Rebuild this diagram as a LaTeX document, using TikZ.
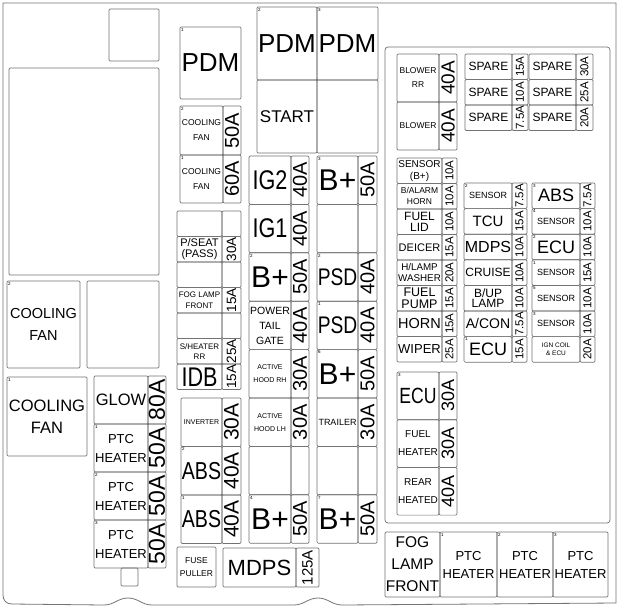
\documentclass[tikz,border=0pt]{standalone}
\usepackage{fontspec}
\setmainfont{Liberation Sans}
\newfontfamily\narrowfont{Liberation Sans}[FakeStretch=0.8]
\usepackage{graphicx}
\usetikzlibrary{positioning}
\definecolor{boxgray}{gray}{0.45}
\newcommand\fs[1]{\fontsize{#1}{#1}\selectfont}
\newcommand\fsb[2]{\fontsize{#1}{#2}\selectfont}
\newcommand\amp[2]{\rotatebox{90}{\fs{#1}#2}}
\tikzset{
    box/.style={draw=boxgray,line width=0.7pt,rounded corners=1.2pt,inner sep=0pt,outer sep=0pt,anchor=north west,align=center},
    idx/.style={font=\fs{4.5},anchor=north west,inner sep=1pt},
    case/.style={draw=boxgray,line width=0.8pt}
}
\newcommand\fuse[9][]{%
    \node[box,minimum width=#4,minimum height=#6,font=#7] (#2) at (#3) {#8};
    \node[box,minimum width=#5,minimum height=#6,right=0pt of #2.north east,anchor=north west] (#2-a) {#9};
    \node[idx] (#2-n) at (#2.north west) {#1};
}
\begin{document}
\begin{tikzpicture}[x=1pt,y=-1pt]
    \useasboundingbox[fill=white] (0,0) rectangle (620,610);
    % case outline
    \draw[case] (3,3) -- (616,3) -- (616,603) -- (342,605) .. controls (332,605) and (328,598) .. (318,598)
        .. controls (308,598) and (304,605) .. (294,605) -- (152,605) .. controls (142,605) and (138,598) .. (128,598)
        .. controls (118,598) and (114,605) .. (104,605) -- (12,604) .. controls (6,604) and (3,600) .. (3,595) -- cycle;

    % left relays
    \node[box,minimum width=50,minimum height=52] (tab top) at (109,9) {};
    \node[box,minimum width=150,minimum height=207] (relay big) at (9,68) {};
    \node[box,minimum width=73,minimum height=87,font=\fsb{14.5}{22}] (fan up) at (7,281) {COOLING\\FAN};
    \node[idx] (fan up-n) at (fan up.north west) {2};
    \node[box,minimum width=72,minimum height=87] (relay mid) at (87,281) {};
    \node[box,minimum width=80,minimum height=79,font=\fsb{16.5}{22}] (fan low) at (7,377) {COOLING\\FAN};
    \node[idx] (fan low-n) at (fan low.north west) {1};
    \foreach \lbl/\am/\ix/\fn [count=\i from 0] in {GLOW/80A/{}/{\fs{16.5}}, {PTC\\HEATER}/50A/1/{\fsb{13}{19}},
        {PTC\\HEATER}/50A/2/{\fsb{13}{19}}, {PTC\\HEATER}/50A/3/{\fsb{13}{19}}}
        \fuse[\ix]{glow\i}{94,{376+48*\i}}{54}{18}{48}{\fn}{\lbl}{\amp{23}{\am}};
    \node[box,minimum width=17,minimum height=18] (tab low) at (121,568) {};

    % fuses left of centre
    \node[box,minimum width=61,minimum height=72,font=\fs{26}] (pdm1) at (180,27) {PDM};
    \node[idx] (pdm1-n) at (pdm1.north west) {1};
    \fuse[2]{fan 50}{180,106}{43}{18}{49}{\fsb{8.5}{15}}{COOLING\\FAN}{\amp{20}{50A}};
    \fuse[1]{fan 60}{180,155}{43}{18}{48}{\fsb{8.5}{15}}{COOLING\\FAN}{\amp{20}{60A}};
    \foreach \lbl/\am/\fn [count=\i from 0] in {{}/{}/{}, {P/SEAT\\(PASS)}/30A/{\fsb{11}{10.5}}, {}/{}/{},
        {FOG LAMP\\FRONT}/15A/{\fsb{8}{10.5}}, {}/{}/{}, {S/HEATER\\RR}/25A/{\fsb{8}{10}}, IDB/15A/{\narrowfont\fs{27}}}
        \fuse{mini\i}{177,{211+25.5*\i}}{45}{19}{25.5}{\fn}{\lbl}{\amp{13.5}{\am}};
    \foreach \lbl/\am/\ix/\fn [count=\i from 0] in {INVERTER/30A/{}/{\fs{7}}, ABS/40A/2/{\narrowfont\fs{24.5}},
        ABS/40A/1/{\narrowfont\fs{24.5}}}
        \fuse[\ix]{inv\i}{181,{398+48.5*\i}}{41}{19}{48.5}{\fn}{\lbl}{\amp{21}{\am}};
    \node[box,minimum width=39,minimum height=40,font=\fsb{8.5}{13}] (puller) at (177,547) {FUSE\\PULLER};
    \fuse{mdps}{223,548}{73}{23}{39}{\fs{22}}{MDPS}{\amp{15}{125A}};

    % centre block
    \node[box,minimum width=60,minimum height=73,font=\fs{26}] (pdm2) at (257,7) {PDM};
    \node[idx] (pdm2-n) at (pdm2.north west) {2};
    \node[box,minimum width=61,minimum height=73,font=\fs{26}] (pdm3) at (317,7) {PDM};
    \node[idx] (pdm3-n) at (pdm3.north west) {3};
    \node[box,minimum width=60,minimum height=73,font=\fs{17}] (start) at (257,80) {START};
    \node[box,minimum width=61,minimum height=73] (relay start) at (317,80) {};
    \foreach \lbl/\am/\ix/\fn [count=\i from 0] in {IG2/40A/{}/{\narrowfont\fs{27}}, IG1/40A/{}/{\narrowfont\fs{27}},
        B+/50A/2/{\fs{30}}, {POWER\\TAIL\\GATE}/40A/{}/{\fsb{10.5}{15}}, {ACTIVE\\HOOD RH}/30A/{}/{\fsb{7}{13}},
        {ACTIVE\\HOOD LH}/30A/{}/{\fsb{7}{13}}, {}/{}/{}/{}, B+/50A/4/{\fs{30}}}
        \fuse[\ix]{ig\i}{249,{156+48.4*\i}}{42}{18}{48.4}{\fn}{\lbl}{\amp{20}{\am}};
    \foreach \lbl/\am/\ix/\fn [count=\i from 0] in {B+/50A/3/{\fs{30}}, {}/{}/{}/{}, PSD/40A/2/{\narrowfont\fs{24}},
        PSD/40A/1/{\narrowfont\fs{24}}, B+/50A/6/{\fs{30}}, TRAILER/30A/{}/{\fs{9}}, {}/{}/{}/{}, B+/50A/7/{\fs{30}}}
        \fuse[\ix]{bp\i}{317,{156+48.4*\i}}{41}{19}{48.4}{\fn}{\lbl}{\amp{20}{\am}};

    % right block
    \node[box,rounded corners=3pt,minimum width=225,minimum height=476] (rframe) at (385,47) {};
    \fuse{blower rr}{397,54}{42}{18}{48}{\fsb{8.5}{14}}{BLOWER\\RR}{\amp{19}{40A}};
    \fuse{blower}{397,102}{42}{18}{48}{\fs{8.5}}{BLOWER}{\amp{19}{40A}};
    \foreach \am/\bm [count=\i from 0] in {15A/30A,10A/25A,7.5A/20A}{
        \fuse{spL\i}{465,{54+25.5*\i}}{47}{16}{25.5}{\fs{12}}{SPARE}{\amp{11.5}{\am}}
        \fuse{spR\i}{529,{54+25.5*\i}}{47}{17}{25.5}{\fs{12}}{SPARE}{\amp{11.5}{\bm}}
    }
    \foreach \lbl/\am/\fn [count=\i from 0] in {{SENSOR\\(B+)}/10A/{\fsb{10}{12}}, {B/ALARM\\HORN}/10A/{\fsb{8.5}{11}},
        {FUEL\\LID}/10A/{\fsb{12}{11.5}}, DEICER/15A/{\fs{11}}, {H/LAMP\\WASHER}/20A/{\fsb{9.8}{11}},
        {FUEL\\PUMP}/15A/{\fsb{12.5}{11.5}}, HORN/15A/{\fs{14.5}}, WIPER/25A/{\fs{13}}}
        \fuse{rl\i}{397,{158+25.5*\i}}{45}{15}{25.5}{\fn}{\lbl}{\amp{11.5}{\am}};
    \foreach \lbl/\am/\ix/\fn [count=\i from 0] in {SENSOR/7.5A/2/{\fs{9}}, TCU/15A/{}/{\fs{15}}, MDPS/10A/{}/{\fs{16}},
        CRUISE/10A/{}/{\fs{12}}, {B/UP\\LAMP}/10A/{}/{\fsb{12}{10.5}}, {A/CON}/7.5A/{}/{\fs{14}}, ECU/15A/1/{\fs{18}}}
        \fuse[\ix]{rm\i}{464,{183+25.6*\i}}{48}{15}{25.6}{\fn}{\lbl}{\amp{11.5}{\am}};
    \foreach \lbl/\am/\ix/\fn [count=\i from 0] in {ABS/7.5A/3/{\fs{18}}, SENSOR/10A/4/{\fs{9}}, ECU/10A/2/{\fs{18}},
        SENSOR/15A/1/{\fs{9}}, SENSOR/10A/5/{\fs{9}}, SENSOR/10A/3/{\fs{9}}, {IGN COIL\\\& ECU}/20A/{}/{\fsb{6.5}{8}}}
        \fuse[\ix]{rr\i}{532,{183+25.6*\i}}{48}{15}{25.6}{\fn}{\lbl}{\amp{11.5}{\am}};
    \foreach \lbl/\am/\ix/\fn [count=\i from 0] in {ECU/30A/3/{\narrowfont\fs{22}}, {FUEL\\HEATER}/30A/{}/{\fsb{10}{18}},
        {REAR\\HEATED}/40A/{}/{\fsb{10}{18}}}
        \fuse[\ix]{ecu\i}{397,{372+47.7*\i}}{42}{18}{47.7}{\fn}{\lbl}{\amp{18}{\am}};

    % bottom row
    \node[box,minimum width=55,minimum height=65,font=\fsb{15.5}{22}] (fog front) at (385,532) {FOG\\LAMP\\FRONT};
    \node[box,minimum width=57,minimum height=65,font=\fsb{13}{18},right=0pt of fog front.north east,anchor=north west] (ptc1) {PTC\\HEATER};
    \node[box,minimum width=56,minimum height=65,font=\fsb{13}{18},right=0pt of ptc1.north east,anchor=north west] (ptc2) {PTC\\HEATER};
    \node[box,minimum width=55,minimum height=65,font=\fsb{13}{18},right=0pt of ptc2.north east,anchor=north west] (ptc3) {PTC\\HEATER};
    \node[idx] (ptc1-n) at (ptc1.north west) {1};
    \node[idx] (ptc2-n) at (ptc2.north west) {2};
    \node[idx] (ptc3-n) at (ptc3.north west) {3};
\end{tikzpicture}
\end{document}
